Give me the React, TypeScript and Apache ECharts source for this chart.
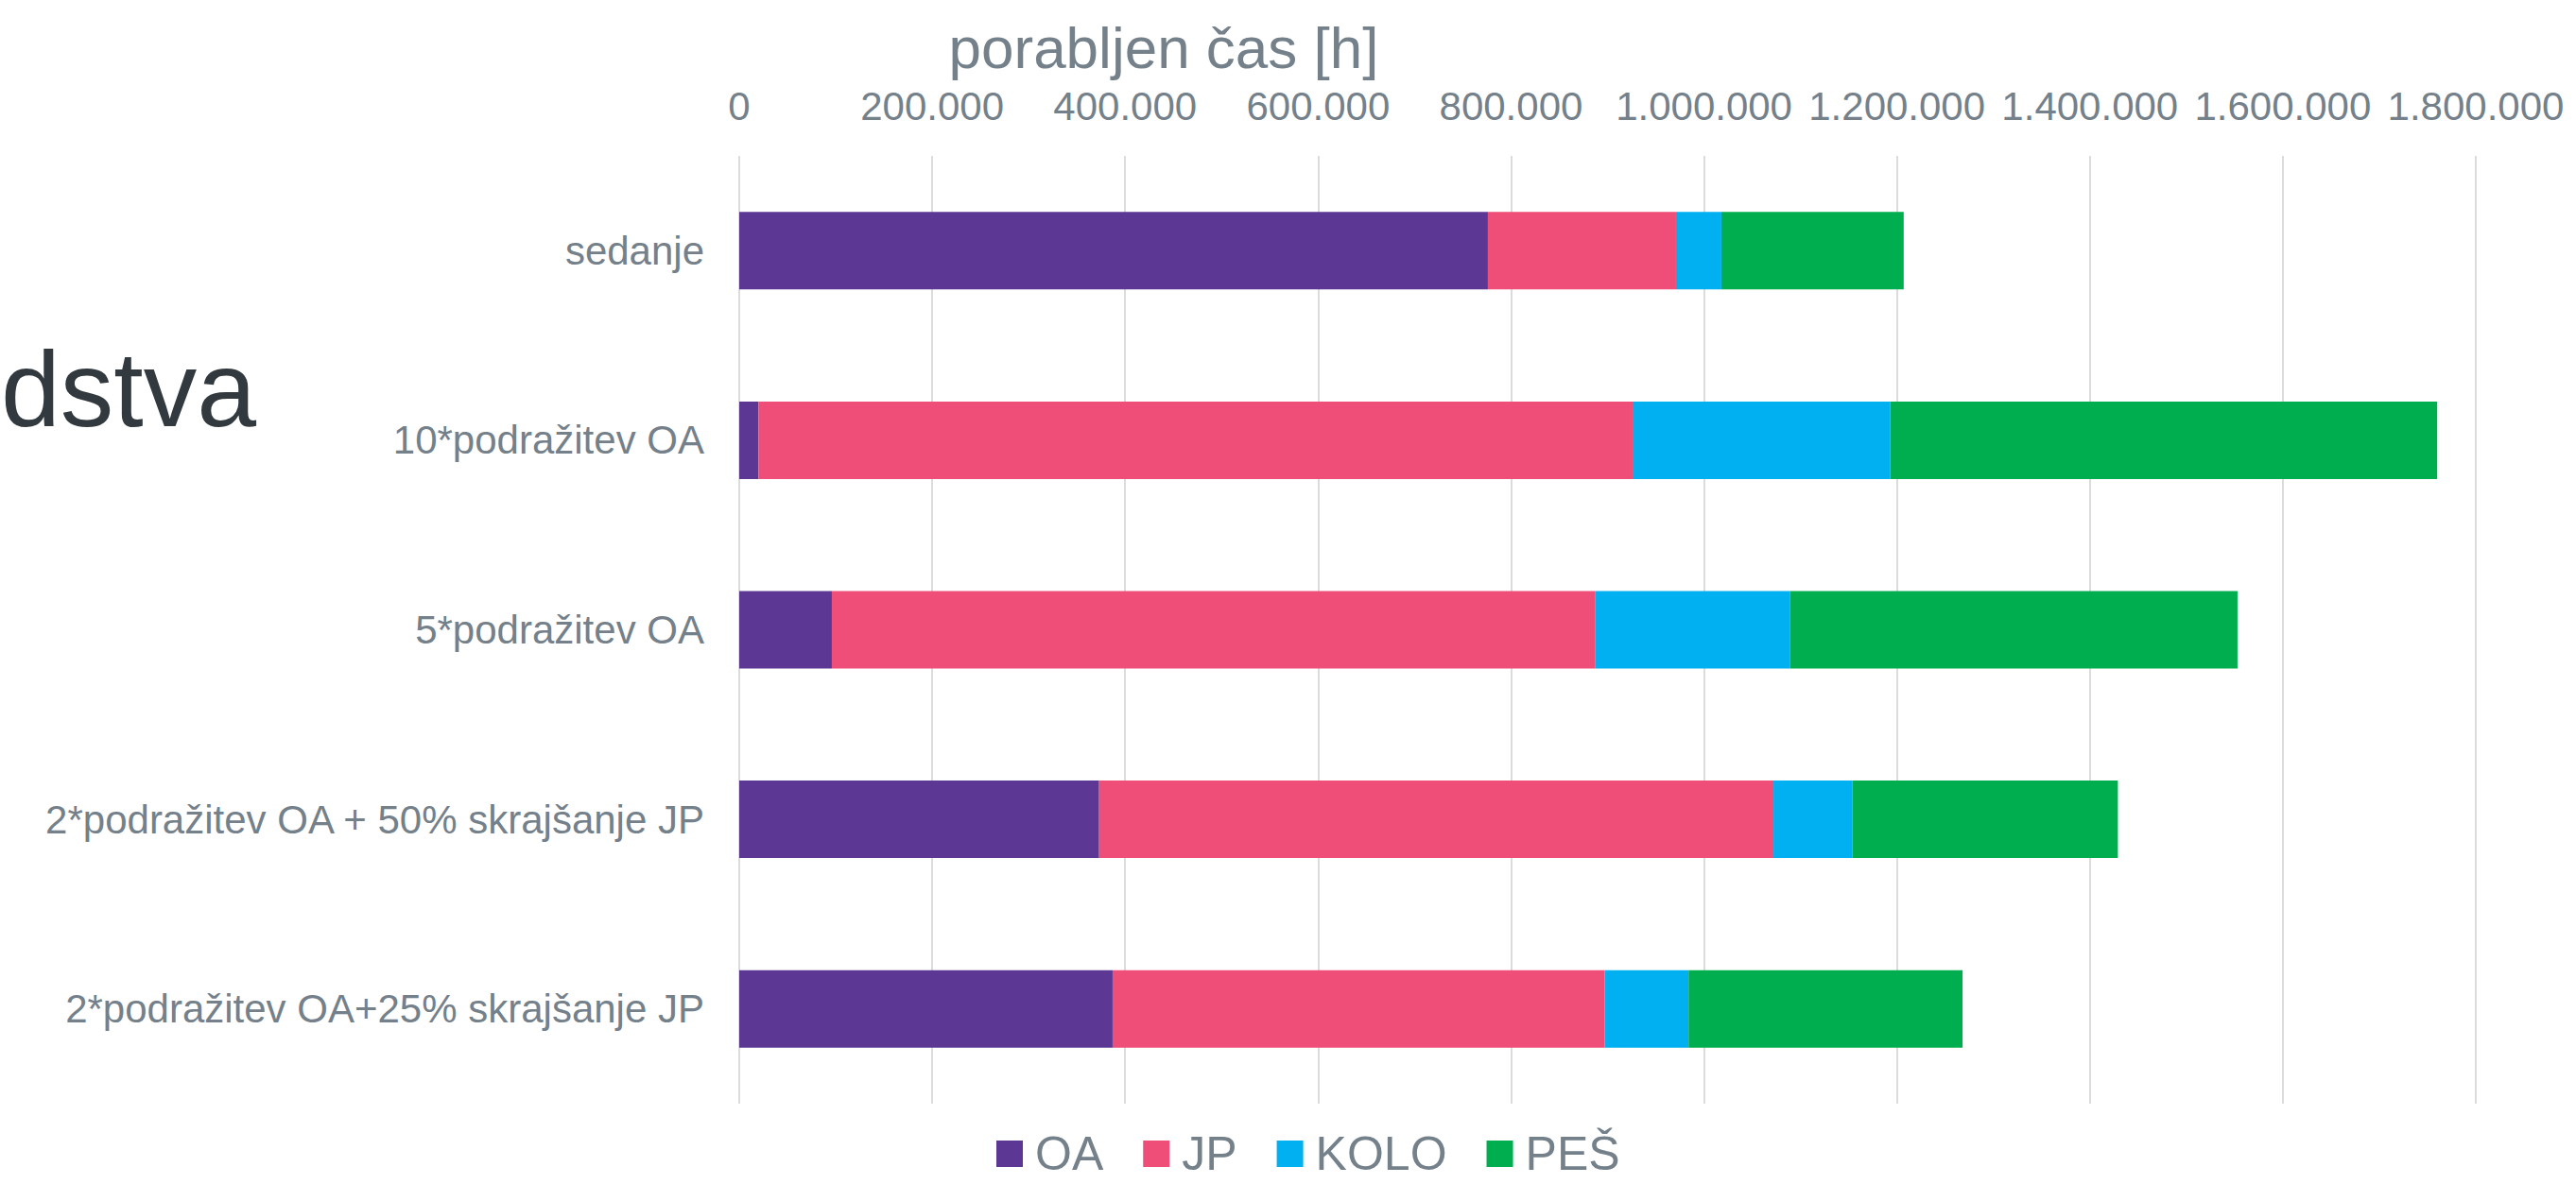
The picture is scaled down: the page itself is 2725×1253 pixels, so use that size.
import React, { useEffect, useRef } from "react";
import * as echarts from "echarts";

const categories = [
  "sedanje",
  "10*podražitev OA",
  "5*podražitev OA",
  "2*podražitev OA + 50% skrajšanje JP",
  "2*podražitev OA+25% skrajšanje JP",
];
const seriesNames = ["OA", "JP", "KOLO", "PEŠ"];
const oaValues = [776000, 20000, 96000, 373000, 387000];
const jpValues = [195000, 906000, 791000, 699000, 510000];
const koloValues = [47000, 267000, 202000, 82000, 87000];
const pesValues = [189000, 567000, 464000, 275000, 284000];
const axisTitle = "porabljen čas [h]";
const clippedTitle = "dstva";

const colors = ["#5c3894", "#ee4e77", "#00b0f0", "#00ae4f"];
const FONT = "'Liberation Sans', Arial, sans-serif";
const GRAY = "#74808a";

const fmt = (v: number) => String(v).replace(/\B(?=(\d{3})+(?!\d))/g, ".");

export default function App() {
  const ref = useRef<HTMLDivElement>(null);
  useEffect(() => {
    if (!ref.current) return;
    const chart = echarts.init(ref.current, null, { renderer: "svg" });
    const data = [oaValues, jpValues, koloValues, pesValues];
    chart.setOption({
      animation: false,
      backgroundColor: "#ffffff",
      textStyle: { fontFamily: FONT },
      grid: { left: 782, right: 106, top: 165, bottom: 85, containLabel: false },
      legend: {
        data: seriesNames,
        left: 1054,
        top: 1196,
        padding: 0,
        itemWidth: 28,
        itemHeight: 28,
        itemGap: 42,
        icon: "rect",
        textStyle: {
          fontSize: 50,
          lineHeight: 46,
          color: GRAY,
          fontFamily: FONT,
          padding: [0, 0, 0, 8],
        },
      },
      xAxis: {
        type: "value",
        position: "top",
        min: 0,
        max: 1800000,
        interval: 200000,
        axisLine: { show: false },
        axisTick: { show: false },
        splitLine: { show: true, lineStyle: { color: "#dcdcdc", width: 2 } },
        axisLabel: { fontSize: 42, color: GRAY, margin: 32, fontFamily: FONT, formatter: (v: number) => fmt(v) },
      },
      yAxis: {
        type: "category",
        inverse: true,
        data: categories,
        axisLine: { show: false },
        axisTick: { show: false },
        axisLabel: { fontSize: 42, color: GRAY, margin: 37, fontFamily: FONT },
      },
      graphic: [
        {
          type: "text",
          x: 1231,
          y: 50,
          style: {
            text: axisTitle,
            fontSize: 62,
            fontFamily: FONT,
            fill: GRAY,
            align: "center",
            verticalAlign: "middle",
          },
        },
        {
          type: "text",
          x: 1,
          y: 412,
          style: {
            text: clippedTitle,
            fontSize: 113,
            fontFamily: FONT,
            fill: "#323a40",
            align: "left",
            verticalAlign: "middle",
          },
        },
      ],
      series: seriesNames.map((name, i) => ({
        name,
        type: "bar",
        stack: "total",
        barWidth: 82,
        data: data[i],
        itemStyle: { color: colors[i] },
        emphasis: { disabled: true },
      })),
    });
    return () => chart.dispose();
  }, []);
  return (
    <div
      ref={ref}
      style={{ position: "fixed", left: 0, top: 0, width: 2725, height: 1253 }}
    />
  );
}
